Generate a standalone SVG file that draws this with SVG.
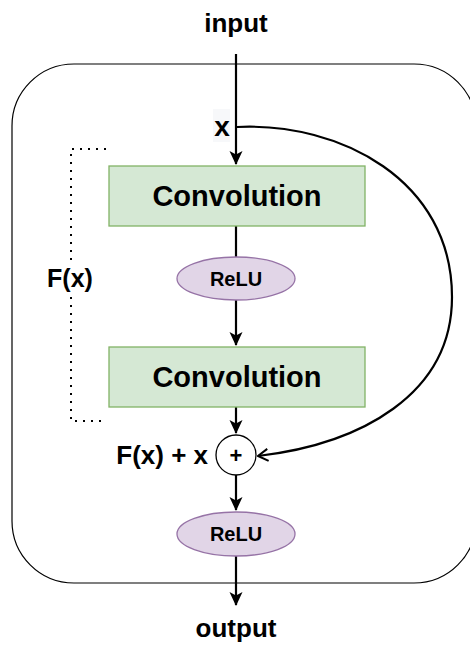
<svg xmlns="http://www.w3.org/2000/svg" width="470" height="645" viewBox="0 0 470 645">
  <style>
    text { font-family: "Liberation Sans", Arial, Helvetica, sans-serif; font-weight: bold; fill: #000; text-anchor: middle; }
    .conv { fill: #d5e8d4; stroke: #82b366; stroke-width: 1.3; }
    .relu { fill: #e1d5e7; stroke: #9673a6; stroke-width: 1.3; }
    .edge { fill: none; stroke: #000; stroke-width: 2.2; }
    .frame { fill: none; stroke: #000; stroke-width: 1.2; }
    .dots { fill: none; stroke: #000; stroke-width: 2; stroke-dasharray: 2 6; }
  </style>
  <defs>
    <marker id="arrow" viewBox="0 0 14 14" refX="13" refY="7" markerWidth="14" markerHeight="14" markerUnits="userSpaceOnUse" orient="auto">
      <path d="M0,0.5 L14,7 L0,13.5 L3.5,7 Z" fill="#000"/>
    </marker>
    <marker id="open" viewBox="0 0 12 14" refX="11" refY="7" markerWidth="12" markerHeight="14" markerUnits="userSpaceOnUse" orient="auto">
      <path d="M1,1 L11,7 L1,13" fill="none" stroke="#000" stroke-width="2"/>
    </marker>
  </defs>

  <!-- residual block frame -->
  <rect class="frame" x="12" y="64" width="464" height="519" rx="62" ry="62"/>

  <!-- F(x) bracket -->
  <g id="fx-bracket">
    <path class="dots" d="M106,149 H71 V262"/>
    <path class="dots" d="M71,297 V421 H103"/>
    <text x="70" y="287" font-size="25">F(x)</text>
  </g>

  <g id="connectors">
    <path class="edge" d="M236,54 V164" marker-end="url(#arrow)"/>
    <path class="edge" d="M236,226 V257"/>
    <path class="edge" d="M236,300 V345" marker-end="url(#arrow)"/>
    <path class="edge" d="M236,407 V433" marker-end="url(#arrow)"/>
    <path class="edge" d="M236,475 V510" marker-end="url(#arrow)"/>
    <path class="edge" d="M236,556 V605" marker-end="url(#arrow)"/>
    <!-- identity shortcut -->
    <path class="edge" d="M237,127 C340,122 452,180 452,297 C452,395 360,444 258,456" marker-end="url(#open)"/>
  </g>

  <g id="input">
    <text x="236" y="32" font-size="26">input</text>
  </g>

  <g id="x-label">
    <rect x="213" y="109" width="17" height="33" fill="#f7f8fa"/>
    <text x="222" y="136" font-size="28">x</text>
  </g>

  <g id="conv1">
    <rect class="conv" x="109" y="166" width="256" height="60"/>
    <text x="237" y="206" font-size="29">Convolution</text>
  </g>

  <g id="relu1">
    <ellipse class="relu" cx="236" cy="278.5" rx="59" ry="21.5"/>
    <text x="236" y="286" font-size="20">ReLU</text>
  </g>

  <g id="conv2">
    <rect class="conv" x="109" y="347" width="256" height="60"/>
    <text x="237" y="387" font-size="29">Convolution</text>
  </g>

  <g id="add">
    <circle cx="236" cy="455" r="20" fill="#fff" stroke="#000" stroke-width="1.3"/>
    <text x="236" y="463" font-size="22">+</text>
    <text x="208" y="464" font-size="26" style="text-anchor:end">F(x) + x</text>
  </g>

  <g id="relu2">
    <ellipse class="relu" cx="236" cy="534" rx="59" ry="22"/>
    <text x="236" y="541" font-size="20">ReLU</text>
  </g>

  <g id="output">
    <text x="236" y="637" font-size="26">output</text>
  </g>
</svg>
